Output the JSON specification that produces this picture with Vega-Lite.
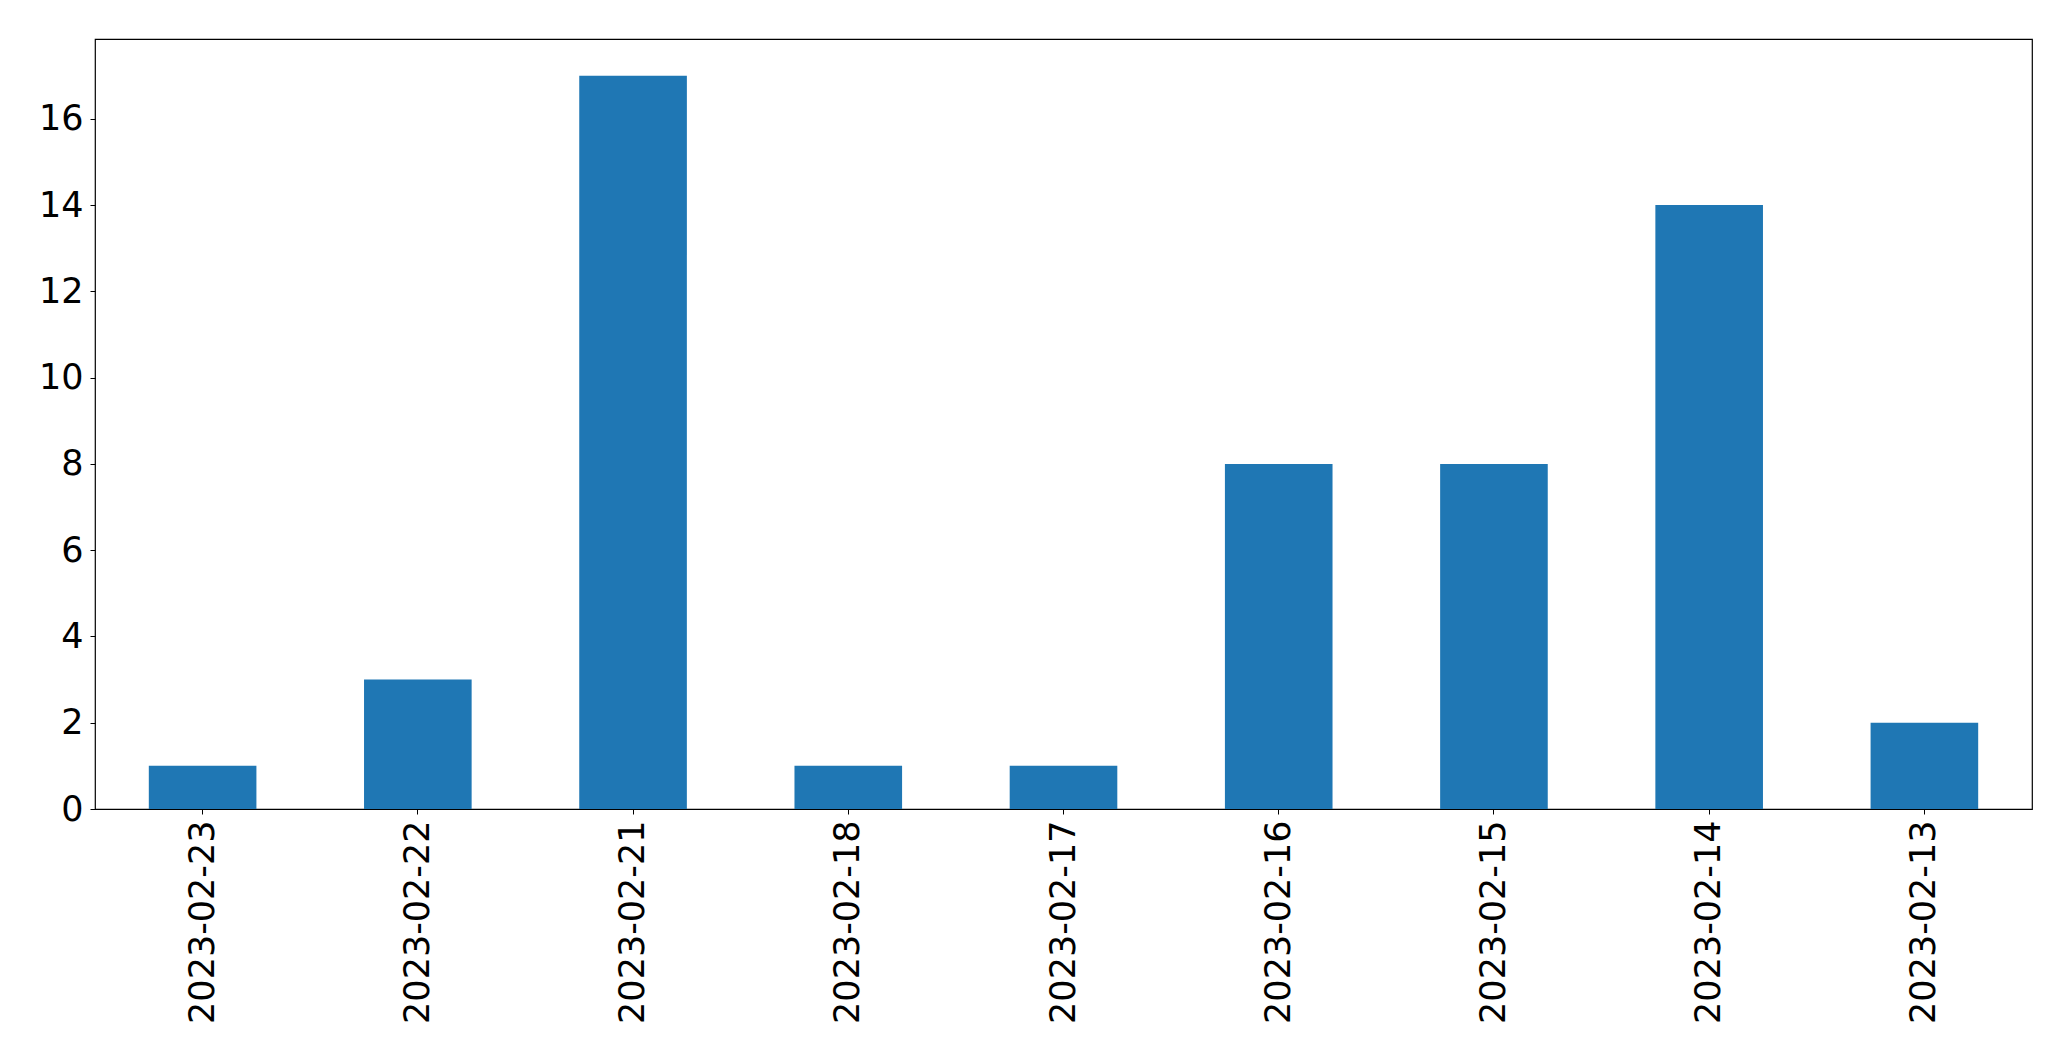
{
  "$schema": "https://vega.github.io/schema/vega-lite/v6.json",
  "width": 1937,
  "height": 770,
  "autosize": {"type": "none"},
  "padding": {"left": 95, "top": 39, "right": 39, "bottom": 252},
  "background": "white",
  "config": {
    "view": {"stroke": "black", "strokeWidth": 1.2},
    "axis": {
      "labelFont": "DejaVu Sans",
      "labelFontSize": 35,
      "labelColor": "black",
      "labelLimit": 0,
      "tickColor": "black",
      "tickSize": 5,
      "tickWidth": 1,
      "domain": false,
      "grid": false,
      "title": null
    }
  },
  "data": {
    "values": [
      {"date": "2023-02-23", "count": 1},
      {"date": "2023-02-22", "count": 3},
      {"date": "2023-02-21", "count": 17},
      {"date": "2023-02-18", "count": 1},
      {"date": "2023-02-17", "count": 1},
      {"date": "2023-02-16", "count": 8},
      {"date": "2023-02-15", "count": 8},
      {"date": "2023-02-14", "count": 14},
      {"date": "2023-02-13", "count": 2}
    ]
  },
  "mark": {"type": "bar", "color": "#1f77b4"},
  "encoding": {
    "x": {
      "field": "date",
      "type": "nominal",
      "sort": null,
      "scale": {"paddingInner": 0.5, "paddingOuter": 0.25},
      "axis": {"labelAngle": -90, "labelPadding": 6}
    },
    "y": {
      "field": "count",
      "type": "quantitative",
      "scale": {"domain": [0, 17.85], "nice": false, "zero": true},
      "axis": {"values": [0, 2, 4, 6, 8, 10, 12, 14, 16], "labelPadding": 7}
    }
  }
}
